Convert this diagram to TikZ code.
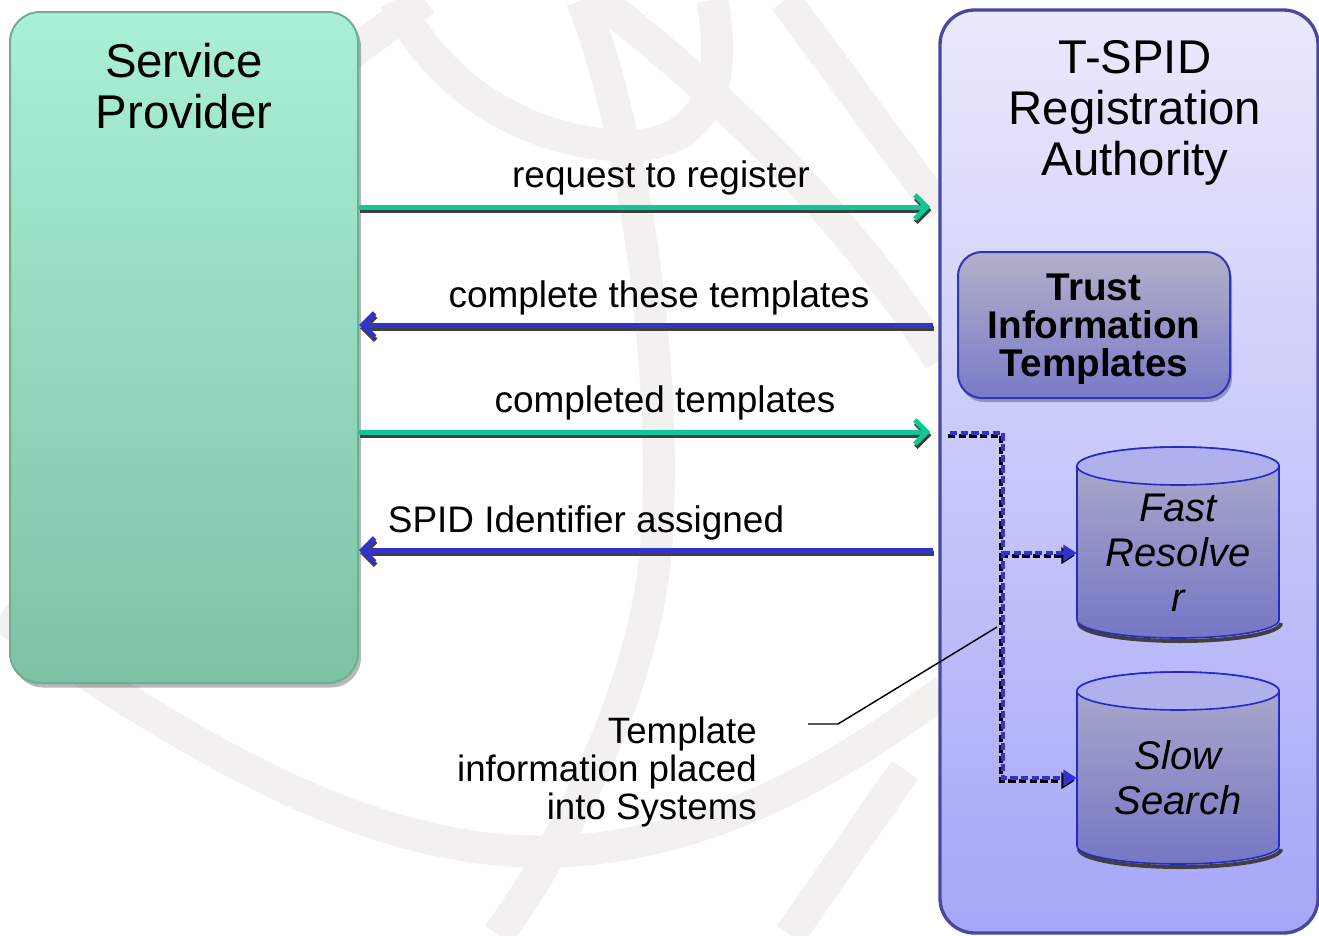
\documentclass[tikz,border=0pt]{standalone}
\usepackage{fontspec}
\setmainfont{Liberation Sans}
\usetikzlibrary{arrows.meta}
\definecolor{wm}{RGB}{242,241,240}
\definecolor{agreen}{RGB}{16,200,150}
\definecolor{ablue}{RGB}{51,51,204}
\definecolor{ashadow}{RGB}{64,64,64}
\definecolor{spTop}{RGB}{170,240,214}
\definecolor{spBot}{RGB}{126,194,166}
\definecolor{spEdge}{RGB}{110,175,148}
\definecolor{raTop}{RGB}{234,234,252}
\definecolor{raBot}{RGB}{166,166,248}
\definecolor{raEdge}{RGB}{72,72,160}
\definecolor{tbTop}{RGB}{178,178,202}
\definecolor{tbBot}{RGB}{122,122,200}
\definecolor{tbEdge}{RGB}{50,50,190}
\definecolor{cylTop}{RGB}{172,172,204}
\definecolor{cylBot}{RGB}{118,118,196}
\definecolor{cylLid}{RGB}{176,176,236}
\definecolor{cylEdge}{RGB}{40,40,200}
\begin{document}
\begin{tikzpicture}[x=0.75pt,y=-0.75pt,
  wmk/.style={draw=wm, line width=24pt},
  sppanel/.style={rounded corners=22.5pt, minimum width=261pt, minimum height=503.25pt, top color=spTop, bottom color=spBot, draw=spEdge, line width=1.5pt, inner sep=0pt},
  rapanel/.style={rounded corners=26pt, minimum width=283.5pt, minimum height=692.25pt, top color=raTop, bottom color=raBot, draw=raEdge, line width=2.5pt, inner sep=0pt},
  tbox/.style={rounded corners=18pt, minimum width=204pt, minimum height=109.5pt, top color=tbTop, bottom color=tbBot, draw=tbEdge, line width=1.5pt, inner sep=0pt},
  pshadow/.style={fill=black, opacity=0.28, inner sep=0pt},
  title/.style={font=\fontsize{35.5pt}{38.25pt}\selectfont, align=center, inner sep=0pt},
  ttext/.style={font=\fontsize{29pt}{28.5pt}\selectfont\bfseries, align=center, inner sep=0pt},
  cyltext/.style={font=\fontsize{30pt}{33.75pt}\selectfont\itshape, align=center, minimum width=151.5pt, inner sep=0pt},
  msg/.style={font=\fontsize{27.7pt}{30pt}\selectfont, inner sep=0pt},
  note/.style={font=\fontsize{27.5pt}{28.5pt}\selectfont, align=right, inner sep=0pt},
  arr/.style={line width=3.75pt, -{Straight Barb[length=9pt,width=18pt]}},
  garrow/.style={arr, draw=agreen, shorten >=6pt},
  gshadow/.style={arr, draw=ashadow, shorten >=6pt, transform canvas={shift={(0.8pt,-2.4pt)}}},
  barrow/.style={arr, draw=ablue, shorten <=4pt},
  bshadow/.style={arr, draw=ashadow, shorten <=4pt, transform canvas={shift={(0.8pt,-2.4pt)}}},
  dline/.style={draw=ablue, line width=3pt, dash pattern=on 5.5pt off 2.5pt, -{Triangle[length=10pt,width=12pt]}},
  dshadow/.style={draw=black, line width=3pt, dash pattern=on 5.5pt off 2.5pt, -{Triangle[length=10pt,width=12pt]}, transform canvas={shift={(-1.5pt,-2pt)}}},
  cylbody/.style={draw=cylEdge, line width=1.2pt, top color=cylTop, bottom color=cylBot},
  cyllid/.style={draw=cylEdge, line width=1.2pt, fill=cylLid},
  cylshadow/.style={draw=ashadow, line width=3pt},
  callout/.style={draw=black, line width=1.1pt}
]
\path[fill=white] (0,0) rectangle (1319,935);
\useasboundingbox (0,0) rectangle (1319,935);
% watermark
\begin{scope}
\clip (0,0) rectangle (1319,935);
\draw[wmk] (0,615) .. controls (250,790) and (420,870) .. (600,848) .. controls (740,830) and (850,760) .. (945,690);
\draw[wmk] (582,0) .. controls (640,150) and (670,400) .. (655,560) .. controls (640,700) and (560,850) .. (498,935);
\draw[wmk] (395,0) .. controls (450,110) and (560,150) .. (640,145) .. controls (700,140) and (730,90) .. (712,0);
\draw[wmk] (600,0) .. controls (700,80) and (830,190) .. (940,360);
\draw[wmk] (785,0) -- (940,210);
\draw[wmk] (300,90) -- (425,0);
\draw[wmk] (905,770) -- (790,935);
\end{scope}
% panels
\node[pshadow, rounded corners=22.5pt, minimum width=261pt, minimum height=503.25pt] (sps) at (187,352) {};
\node[sppanel] (sp) at (184,347.5) {};
\node[rapanel] (ra) at (1129,471.5) {};
\node[title] (spt) at (184,86) {Service\\Provider};
\node[title] (rat) at (1135,113) {T-SPID\\Registration\\Authority};
% trust box
\node[pshadow, rounded corners=18pt, minimum width=204pt, minimum height=109.5pt] (tbs) at (1096,329) {};
\node[tbox] (tb) at (1094,325) {};
\node[ttext] (tit) at (1094,329) {Trust\\Information\\Templates};
% cylinders
\draw[cylshadow] (1079,623) arc[start angle=180, end angle=360, x radius=75.75pt, y radius=13.5pt];
\path[cylbody] (1077,466) -- (1077,620) arc[start angle=180, end angle=360, x radius=75.75pt, y radius=13.5pt] -- (1279,466) arc[start angle=0, end angle=180, x radius=75.75pt, y radius=14.25pt] -- cycle;
\draw[cyllid] (1178,466) ellipse [x radius=75.75pt, y radius=14.25pt];
\draw[cylshadow] (1079,849) arc[start angle=180, end angle=360, x radius=75.75pt, y radius=13.5pt];
\path[cylbody] (1077,691) -- (1077,846) arc[start angle=180, end angle=360, x radius=75.75pt, y radius=13.5pt] -- (1279,691) arc[start angle=0, end angle=180, x radius=75.75pt, y radius=14.25pt] -- cycle;
\draw[cyllid] (1178,691) ellipse [x radius=75.75pt, y radius=14.25pt];
\node[cyltext] (fr) at (1178,553) {Fast\\Resolve\\r};
\node[cyltext] (ss) at (1178,778) {Slow\\Search};
% main arrows
\coordinate (y1) at (0,207);
\coordinate (y2) at (0,325);
\coordinate (y3) at (0,432);
\coordinate (y4) at (0,550);
\draw[gshadow] (sp.east |- y1) -- (ra.west |- y1);
\draw[garrow] (sp.east |- y1) -- (ra.west |- y1);
\draw[bshadow] (ra.west |- y2) -- (sp.east |- y2);
\draw[barrow] (ra.west |- y2) -- (sp.east |- y2);
\draw[gshadow] (sp.east |- y3) -- (ra.west |- y3);
\draw[garrow] (sp.east |- y3) -- (ra.west |- y3);
\draw[bshadow] (ra.west |- y4) -- (sp.east |- y4);
\draw[barrow] (ra.west |- y4) -- (sp.east |- y4);
\node[msg] (l1) at (661,178) {request to register};
\node[msg] (l2) at (659,298) {complete these templates};
\node[msg] (l3) at (665,403) {completed templates};
\node[msg] (l4) at (586,523) {SPID Identifier assigned};
% dashed distribution
\coordinate (d0) at (950,433);
\coordinate (dj) at (1003,433);
\draw[dshadow] (d0) -- (dj) |- (ss.west);
\draw[dshadow] (dj |- fr.west) -- (fr.west);
\draw[dline] (d0) -- (dj) |- (ss.west);
\draw[dline] (dj |- fr.west) -- (fr.west);
% callout
\node[note, anchor=east] (tn) at (757,772) {Template\\information placed\\into Systems};
\coordinate (c0) at (808,724);
\coordinate (c1) at (838,724);
\coordinate (c2) at (997,627);
\draw[callout] (c0) -- (c1) -- (c2);
\end{tikzpicture}
\end{document}
